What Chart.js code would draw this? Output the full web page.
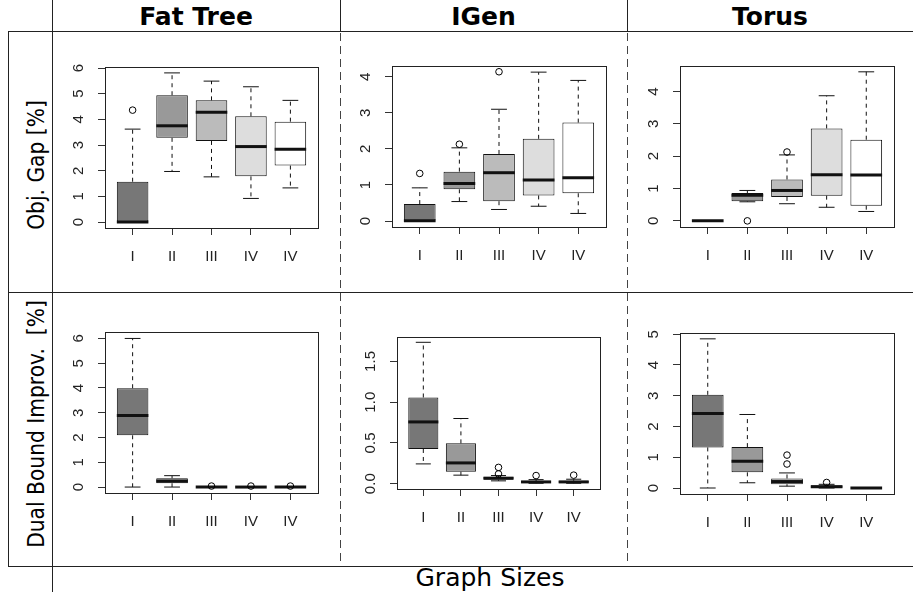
<!DOCTYPE html>
<html><head><meta charset="utf-8">
<script src="https://cdn.jsdelivr.net/npm/chart.js@4.4.1/dist/chart.umd.min.js"></script>
<style>
html,body{margin:0;padding:0;background:#fff;width:913px;height:592px;overflow:hidden;}
#wrap{position:relative;width:913px;height:592px;}
canvas{position:absolute;}
.t{position:absolute;font-family:"DejaVu Sans";color:#000;white-space:pre;}
.ttl{top:1px;text-align:center;font-weight:bold;font-size:25px;line-height:31px;}
.yl{font-size:23px;line-height:26px;}
</style></head><body><div id="wrap">
<svg width="913" height="592" style="position:absolute;left:0;top:0">
 <g stroke="#222" stroke-width="1" fill="none">
  <line x1="8" y1="31.5" x2="913" y2="31.5"/>
  <line x1="8" y1="292.5" x2="913" y2="292.5"/>
  <line x1="8" y1="566.5" x2="913" y2="566.5"/>
  <line x1="8.5" y1="31" x2="8.5" y2="567"/>
  <line x1="52.5" y1="0" x2="52.5" y2="592"/>
  <line x1="340.5" y1="0" x2="340.5" y2="31"/>
  <line x1="627.5" y1="0" x2="627.5" y2="31"/>
  <line x1="340.5" y1="33" x2="340.5" y2="566" stroke-dasharray="8 5" stroke="#444"/>
  <line x1="627.5" y1="33" x2="627.5" y2="566" stroke-dasharray="8 5" stroke="#444"/>
 </g>
</svg>
<div class="t ttl" style="left:52px;width:288px">Fat Tree</div>
<div class="t ttl" style="left:340px;width:287px">IGen</div>
<div class="t ttl" style="left:627px;width:286px">Torus</div>
<div class="t yl" style="left:36px;top:165px;transform:translate(-50%,-50%) rotate(-90deg) scaleX(0.88)">Obj. Gap [%]</div>
<div class="t yl" style="left:36px;top:424px;transform:translate(-50%,-50%) rotate(-90deg) scaleX(0.88)">Dual Bound Improv.  [%]</div>
<div class="t" style="left:390px;width:200px;top:564px;text-align:center;font-size:25px;line-height:28px">Graph Sizes</div>
</div>
<script>
// ---- data ----
const sizeLabels = ['I', 'II', 'III', 'IV', 'IV'];

// Obj. Gap - Fat Tree
const ftGapLo  = [0, 1.97, 1.76, 0.92, 1.33];
const ftGapQ1  = [0, 3.28, 3.16, 1.78, 2.20];
const ftGapMed = [0, 3.75, 4.28, 2.94, 2.84];
const ftGapQ3  = [1.57, 4.94, 4.74, 4.12, 3.91];
const ftGapHi  = [3.62, 5.81, 5.49, 5.27, 4.74];
const ftGapOutX = [1];
const ftGapOutY = [4.36];
const ftGapRange = [-0.232, 6.04];
const ftGapTicks = [0, 1, 2, 3, 4, 5, 6];

// Obj. Gap - IGen
const igGapLo  = [0, 0.54, 0.32, 0.41, 0.21];
const igGapQ1  = [0, 0.88, 0.55, 0.71, 0.77];
const igGapMed = [0.01, 1.04, 1.34, 1.14, 1.20];
const igGapQ3  = [0.47, 1.37, 1.86, 2.28, 2.73];
const igGapHi  = [0.92, 2.03, 3.10, 4.13, 3.90];
const igGapOutX = [1, 2, 3];
const igGapOutY = [1.32, 2.13, 4.14];
const igGapRange = [-0.166, 4.30];
const igGapTicks = [0, 1, 2, 3, 4];

// Obj. Gap - Torus
const toGapLo  = [0, 0.59, 0.53, 0.42, 0.29];
const toGapQ1  = [0, 0.61, 0.74, 0.78, 0.47];
const toGapMed = [0, 0.79, 0.94, 1.43, 1.42];
const toGapQ3  = [0, 0.86, 1.28, 2.86, 2.51];
const toGapHi  = [0, 0.94, 2.04, 3.87, 4.61];
const toGapOutX = [2, 3];
const toGapOutY = [0, 2.13];
const toGapRange = [-0.19, 4.79];
const toGapTicks = [0, 1, 2, 3, 4];

// Dual Bound Improv. - Fat Tree
const ftDualLo  = [0, 0, 0, 0, 0];
const ftDualQ1  = [2.09, 0.15, 0, 0, 0];
const ftDualMed = [2.89, 0.24, 0, 0, 0];
const ftDualQ3  = [3.99, 0.36, 0.01, 0.01, 0.01];
const ftDualHi  = [6.0, 0.46, 0.02, 0.02, 0.02];
const ftDualOutX = [3, 4, 5];
const ftDualOutY = [0.04, 0.04, 0.04];
const ftDualRange = [-0.24, 6.26];
const ftDualTicks = [0, 1, 2, 3, 4, 5, 6];

// Dual Bound Improv. - IGen
const igDualLo  = [0.243, 0.105, 0.035, 0.005, 0.005];
const igDualQ1  = [0.426, 0.146, 0.05, 0.012, 0.012];
const igDualMed = [0.758, 0.255, 0.068, 0.022, 0.022];
const igDualQ3  = [1.058, 0.495, 0.082, 0.032, 0.035];
const igDualHi  = [1.735, 0.80, 0.10, 0.05, 0.055];
const igDualOutX = [3, 3, 4, 5];
const igDualOutY = [0.20, 0.12, 0.10, 0.105];
const igDualRange = [-0.065, 1.80];
const igDualTicks = [0, 0.5, 1.0, 1.5];

// Dual Bound Improv. - Torus
const toDualLo  = [0, 0.17, 0.06, 0, 0];
const toDualQ1  = [1.32, 0.51, 0.12, 0.01, 0];
const toDualMed = [2.42, 0.87, 0.21, 0.04, 0];
const toDualQ3  = [3.03, 1.33, 0.31, 0.09, 0];
const toDualHi  = [4.85, 2.39, 0.49, 0.12, 0];
const toDualOutX = [3, 3, 4];
const toDualOutY = [0.78, 1.07, 0.18];
const toDualRange = [-0.195, 5.04];
const toDualTicks = [0, 1, 2, 3, 4, 5];

// ---- styles ----
const boxFills = ['#777777', '#999999', '#bbbbbb', '#dddddd', '#ffffff'];

const boxPlugin = {
  id: 'boxParts',
  afterDatasetDraw(chart, args, o) {
    if (args.meta.type !== 'bar') return;
    const ctx = chart.ctx, ys = chart.scales.y;
    const line = (x1, y1, x2, y2) => { ctx.beginPath(); ctx.moveTo(x1, y1); ctx.lineTo(x2, y2); ctx.stroke(); };
    ctx.save();
    ctx.strokeStyle = '#111';
    ctx.lineCap = 'butt';
    args.meta.data.forEach((bar, i) => {
      const x = bar.x, hw = bar.width / 2;
      const pLo = ys.getPixelForValue(o.lo[i]), pQ1 = ys.getPixelForValue(o.q1[i]);
      const pQ3 = ys.getPixelForValue(o.q3[i]), pHi = ys.getPixelForValue(o.hi[i]);
      const pMed = ys.getPixelForValue(o.med[i]);
      ctx.lineWidth = 1;
      ctx.setLineDash([4, 4]);
      if (pHi < pQ3) line(x, pQ3, x, pHi);
      if (pLo > pQ1) line(x, pQ1, x, pLo);
      ctx.setLineDash([]);
      line(x - hw * 0.5, pHi, x + hw * 0.5, pHi);
      line(x - hw * 0.5, pLo, x + hw * 0.5, pLo);
      ctx.lineWidth = 3;
      line(x - hw, pMed, x + hw, pMed);
    });
    ctx.restore();
  },
  afterDraw(chart, args, o) {
    const ctx = chart.ctx, a = chart.chartArea, ys = chart.scales.y;
    ctx.save();
    ctx.strokeStyle = '#222';
    ctx.lineWidth = 1;
    ctx.strokeRect(Math.round(a.left) + 0.5, Math.round(a.top) + 0.5,
                   Math.round(a.right - a.left), Math.round(a.bottom - a.top));
    ctx.font = '15px "Liberation Sans"';
    ctx.fillStyle = '#222';
    ctx.textAlign = 'center';
    ctx.textBaseline = 'middle';
    ys.ticks.forEach(t => {
      const y = ys.getPixelForValue(t.value);
      ctx.save();
      ctx.translate(a.left - 26, y);
      ctx.rotate(-Math.PI / 2);
      ctx.fillText(o.fmt(t.value), 0, 0);
      ctx.restore();
    });
    ctx.restore();
  }
};

const wrap = document.getElementById('wrap');

function makePanel(area, lo, q1, med, q3, hi, outX, outY, yRange, yTicks, fmt) {
  const [L, T, R, B] = area;
  const padL = 50, padT = 5, padR = 5, padB = 45;
  const w = (R - L) + padL + padR, h = (B - T) + padT + padB;
  const cv = document.createElement('canvas');
  cv.width = w; cv.height = h;
  cv.style.left = (L - padL) + 'px'; cv.style.top = (T - padT) + 'px';
  cv.style.width = w + 'px'; cv.style.height = h + 'px';
  wrap.appendChild(cv);
  new Chart(cv, {
    type: 'bar',
    data: {
      datasets: [
        {
          type: 'scatter',
          data: outX.map((x, i) => ({ x: x, y: outY[i] })),
          pointRadius: 3.3, pointHoverRadius: 3.3, pointBorderWidth: 1,
          borderColor: '#000', backgroundColor: 'rgba(0,0,0,0)'
        },
        {
          type: 'bar',
          data: sizeLabels.map((c, i) => ({ x: i + 1, y: [q1[i], q3[i]] })),
          backgroundColor: boxFills, borderColor: '#111', borderWidth: 1,
          borderSkipped: false, categoryPercentage: 0.8, barPercentage: 1
        }
      ]
    },
    options: {
      responsive: false, animation: false, devicePixelRatio: 1,
      events: [],
      layout: { padding: { top: padT, right: padR, left: 0, bottom: 0 } },
      plugins: {
        legend: { display: false }, tooltip: { enabled: false },
        boxParts: { lo: lo, q1: q1, med: med, q3: q3, hi: hi, fmt: fmt }
      },
      scales: {
        x: {
          type: 'linear', min: 0.3, max: 5.7, offset: false, bounds: 'data',
          afterBuildTicks: sc => { sc.ticks = sizeLabels.map((c, i) => ({ value: i + 1 })); },
          afterFit: sc => { sc.height = padB; },
          grid: { drawOnChartArea: false, drawTicks: true, tickLength: 7, color: '#333', offset: false },
          border: { display: false },
          ticks: {
            autoSkip: false, maxRotation: 0, minRotation: 0, padding: 13,
            font: { family: 'Liberation Sans', size: 15 }, color: '#222',
            callback: v => sizeLabels[Math.round(v) - 1]
          }
        },
        y: {
          type: 'linear', min: yRange[0], max: yRange[1], bounds: 'data',
          afterBuildTicks: sc => { sc.ticks = yTicks.map(v => ({ value: v })); },
          afterFit: sc => { sc.width = padL; },
          grid: { drawOnChartArea: false, drawTicks: true, tickLength: 7, color: '#333' },
          border: { display: false },
          ticks: { display: false }
        }
      }
    },
    plugins: [boxPlugin]
  });
}

const intFmt = v => String(Math.round(v));
const decFmt = v => v.toFixed(1);

makePanel([105, 67, 318, 228], ftGapLo, ftGapQ1, ftGapMed, ftGapQ3, ftGapHi, ftGapOutX, ftGapOutY, ftGapRange, ftGapTicks, intFmt);
makePanel([392, 66, 606, 227], igGapLo, igGapQ1, igGapMed, igGapQ3, igGapHi, igGapOutX, igGapOutY, igGapRange, igGapTicks, intFmt);
makePanel([680, 66, 894, 227], toGapLo, toGapQ1, toGapMed, toGapQ3, toGapHi, toGapOutX, toGapOutY, toGapRange, toGapTicks, intFmt);
makePanel([105, 332, 318, 493], ftDualLo, ftDualQ1, ftDualMed, ftDualQ3, ftDualHi, ftDualOutX, ftDualOutY, ftDualRange, ftDualTicks, intFmt);
makePanel([397, 337, 600, 489], igDualLo, igDualQ1, igDualMed, igDualQ3, igDualHi, igDualOutX, igDualOutY, igDualRange, igDualTicks, decFmt);
makePanel([680, 333, 894, 494], toDualLo, toDualQ1, toDualMed, toDualQ3, toDualHi, toDualOutX, toDualOutY, toDualRange, toDualTicks, intFmt);
</script>
</body></html>
